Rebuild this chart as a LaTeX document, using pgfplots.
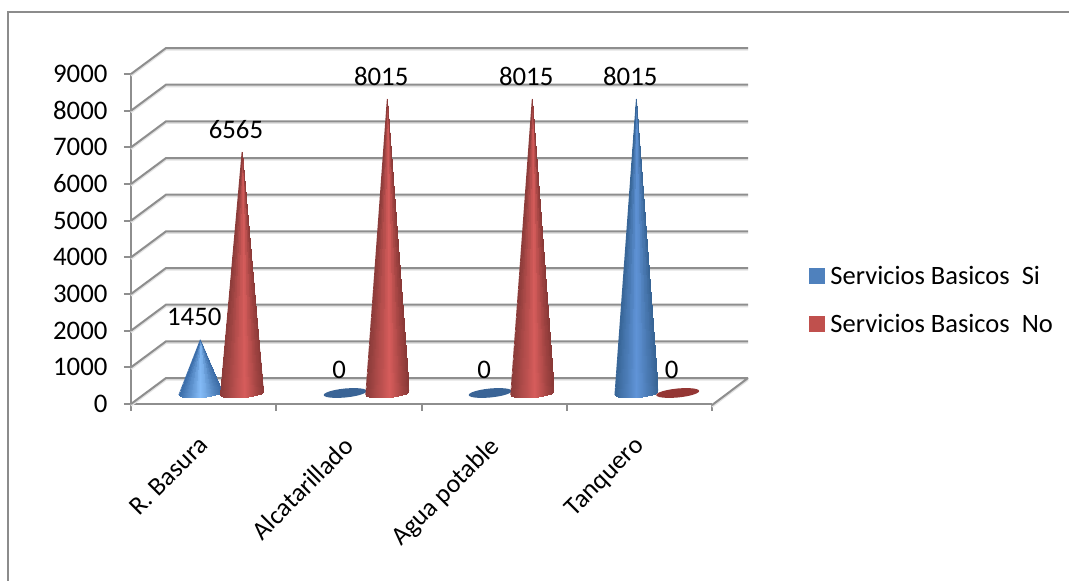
\documentclass[border=0pt]{standalone}
\usepackage{fontspec}
\setmainfont{Carlito}
\usepackage{pgfplots}
\usepackage{pgfplotstable}
\pgfplotsset{compat=1.18}

\definecolor{framegray}{HTML}{8C8C8C}
\definecolor{wallgray}{HTML}{8E8E8E}
\definecolor{wallhalo}{HTML}{E2E2E2}
\definecolor{seriesblue}{HTML}{4F81BD}
\definecolor{seriesred}{HTML}{C0504D}
\definecolor{diskblue}{HTML}{3A6496}
\definecolor{diskred}{HTML}{943634}
\definecolor{rededge}{RGB}{140,60,58}
\definecolor{blueedge}{RGB}{56,102,152}
\definecolor{lightedge}{RGB}{60,110,170}

% Cone surface as a fan of facets from the apex (s=1) to the lower half of the
% tilted base; offsets in px, c is the position across the cone (-1 to 1)
\pgfplotstableread{
u v s c
0 0 1 0.983
21.5 2 0 1
20.77 0.77 0 0.966
0 0 1 0.916
20.77 0.77 0 0.966
18.62 -0.52 0 0.866
0 0 1 0.786
18.62 -0.52 0 0.866
15.2 -1.77 0 0.707
0 0 1 0.604
15.2 -1.77 0 0.707
10.75 -2.9 0 0.5
0 0 1 0.38
10.75 -2.9 0 0.5
5.57 -3.83 0 0.259
0 0 1 0.13
5.57 -3.83 0 0.259
0 -4.5 0 0
0 0 1 -0.13
0 -4.5 0 0
-5.57 -4.87 0 -0.259
0 0 1 -0.38
-5.57 -4.87 0 -0.259
-10.75 -4.9 0 -0.5
0 0 1 -0.604
-10.75 -4.9 0 -0.5
-15.2 -4.59 0 -0.707
0 0 1 -0.786
-15.2 -4.59 0 -0.707
-18.62 -3.98 0 -0.866
0 0 1 -0.916
-18.62 -3.98 0 -0.866
-20.77 -3.1 0 -0.966
0 0 1 -0.983
-20.77 -3.1 0 -0.966
-21.5 -2 0 -1
}\conetable

% The two slanted sides of a cone, base corner to apex to base corner
\pgfplotstableread{
u v s
21.5 2 0
0 0 1
-21.5 -2 0
}\sidetable

% Outline of the flat base drawn for a zero value
\pgfplotstableread{
u v
21.5 2
20.77 0.77
18.62 -0.52
15.2 -1.77
10.75 -2.9
5.57 -3.83
0 -4.5
-5.57 -4.87
-10.75 -4.9
-15.2 -4.59
-18.62 -3.98
-20.77 -3.1
-21.5 -2
-20.77 -0.76
-18.62 0.52
-15.2 1.77
-10.75 2.9
-5.57 3.83
0 4.5
5.57 4.87
10.75 4.9
15.2 4.59
18.62 3.98
20.77 3.1
}\disktable

% Walls and floor: one polyline per gridline, depth offset 0.248 and 709 units
\pgfplotstableread{
x y
0 0
0.241 709
4.248 709
nan nan
0 1000
0.241 1709
4.248 1709
nan nan
0 2000
0.241 2709
4.248 2709
nan nan
0 3000
0.241 3709
4.248 3709
nan nan
0 4000
0.241 4709
4.248 4709
nan nan
0 5000
0.241 5709
4.248 5709
nan nan
0 6000
0.241 6709
4.248 6709
nan nan
0 7000
0.241 7709
4.248 7709
nan nan
0 8000
0.241 8709
4.248 8709
nan nan
0 9000
0.241 9709
4.248 9709
nan nan
4 -30
4.248 709
}\walltable

\newcommand{\chartfont}{\fontsize{26.8}{31}\selectfont}
\newcommand{\legendfont}{\fontsize{26.5}{31}\selectfont}
\newcommand{\catfont}{\fontsize{26}{31}\selectfont}

% Value label above the tip of a cone or above a flat base
\newcommand{\valuelabel}[2]{%
  \addplot[draw=none, forget plot, point meta=explicit,
    nodes near coords, nodes near coords align={center},
    every node near coord/.append style={font=\chartfont, xshift=-6pt, yshift=23pt, text=black},
    /pgf/number format/1000 sep={}, /pgf/number format/assume math mode=true]
    table[row sep=\\, x=p, y expr=\thisrow{h}+300, meta=h] {p h\\ #1 #2\\};
}
% \cone{position}{value}{colormap}{colour of the sides}
\newcommand{\cone}[4]{%
  \addplot[patch, patch type=triangle, shader=interp, forget plot, colormap name=#3,
    point meta=explicit]
    table[x expr=\thisrow{u}/145.25+#1, y expr=\thisrow{v}*27.27+\thisrow{s}*#2+300, meta=c] {\conetable};
  \addplot[#4, line width=0.7pt, forget plot, line join=round]
    table[x expr=\thisrow{u}/145.25+#1, y expr=\thisrow{v}*27.27+\thisrow{s}*#2+300] {\sidetable};
  \valuelabel{#1}{#2}
}
% \flatdisk{position}{value}{colour}
\newcommand{\flatdisk}[3]{%
  \addplot[draw=none, forget plot, fill=#3]
    table[x expr=\thisrow{u}/145.25+#1, y expr=\thisrow{v}*27.27+300] {\disktable};
  \valuelabel{#1}{#2}
}

\begin{document}
\begin{tikzpicture}[x=1pt,y=1pt]
\useasboundingbox (0,0) rectangle (1069,581);
\fill[white] (0,0) rectangle (1069,581);
\draw[framegray, line width=2pt] (8,0) -- (8,569) -- (1069,569);
\begin{axis}[
  at={(131pt,177pt)}, anchor=origin,
  scale only axis, width=581pt, height=330pt,
  xmin=0, xmax=4, ymin=0, ymax=9000,
  clip=false,
  point meta min=-1, point meta max=1,
  colormap={redcone}{rgb255(0)=(140,60,58); rgb255(11)=(214,92,91); rgb255(20)=(136,56,54)},
  colormap={bluecone}{rgb255(0)=(56,102,152); rgb255(10)=(96,148,216); rgb255(20)=(56,100,148)},
  colormap={lightcone}{rgb255(0)=(60,110,170); rgb255(10)=(133,188,248); rgb255(20)=(60,108,165)},
  axis x line=bottom, axis y line=left,
  axis line style={-, wallgray, line width=2pt},
  tick style={wallgray, line width=2pt},
  tick align=outside,
  major tick length=7pt,
  xtick={0,1,2,3,4}, xticklabels={},
  ytick={0,1000,...,9000},
  yticklabel style={font=\chartfont, xshift=-13pt},
  /pgf/number format/1000 sep={},
  /pgf/number format/assume math mode=true,
  extra x ticks={0.5,1.5,2.5,3.5},
  extra x tick labels={R. Basura,Alcatarillado,Agua potable,Tanquero},
  extra x tick style={major tick length=0pt,
    xticklabel style={font=\catfont, rotate=45, anchor=north east, xshift=-23pt, yshift=-14pt}},
  legend style={at={(1.167,0.418)}, anchor=north west, draw=none, fill=none,
    font=\legendfont, inner sep=0pt, outer sep=0pt, /tikz/row sep=28pt, /tikz/column sep=6pt,
    nodes={inner sep=0pt}},
  legend cell align=left,
  legend image code/.code={\fill[#1] (0pt,-7.5pt) rectangle (15pt,7.5pt);},
]
% Soft edge under the gridlines, then the gridlines
\addplot[wallhalo, line width=2pt, forget plot, unbounded coords=jump, yshift=-1.6pt] table {\walltable};
\addplot[wallgray, line width=2pt, forget plot, unbounded coords=jump] table {\walltable};
% R. Basura
\cone{0.477}{1450}{lightcone}{lightedge}
\cone{0.764}{6565}{redcone}{rededge}
% Alcatarillado
\flatdisk{1.475}{0}{diskblue}
\cone{1.764}{8015}{redcone}{rededge}
% Agua potable
\flatdisk{2.473}{0}{diskblue}
\cone{2.762}{8015}{redcone}{rededge}
% Tanquero
\flatdisk{3.764}{0}{diskred}
\cone{3.479}{8015}{bluecone}{blueedge}
\addlegendimage{seriesblue}
\addlegendentry{Servicios Basicos\ \ Si}
\addlegendimage{seriesred}
\addlegendentry{Servicios Basicos\ \ No}
\end{axis}
\end{tikzpicture}
\end{document}
